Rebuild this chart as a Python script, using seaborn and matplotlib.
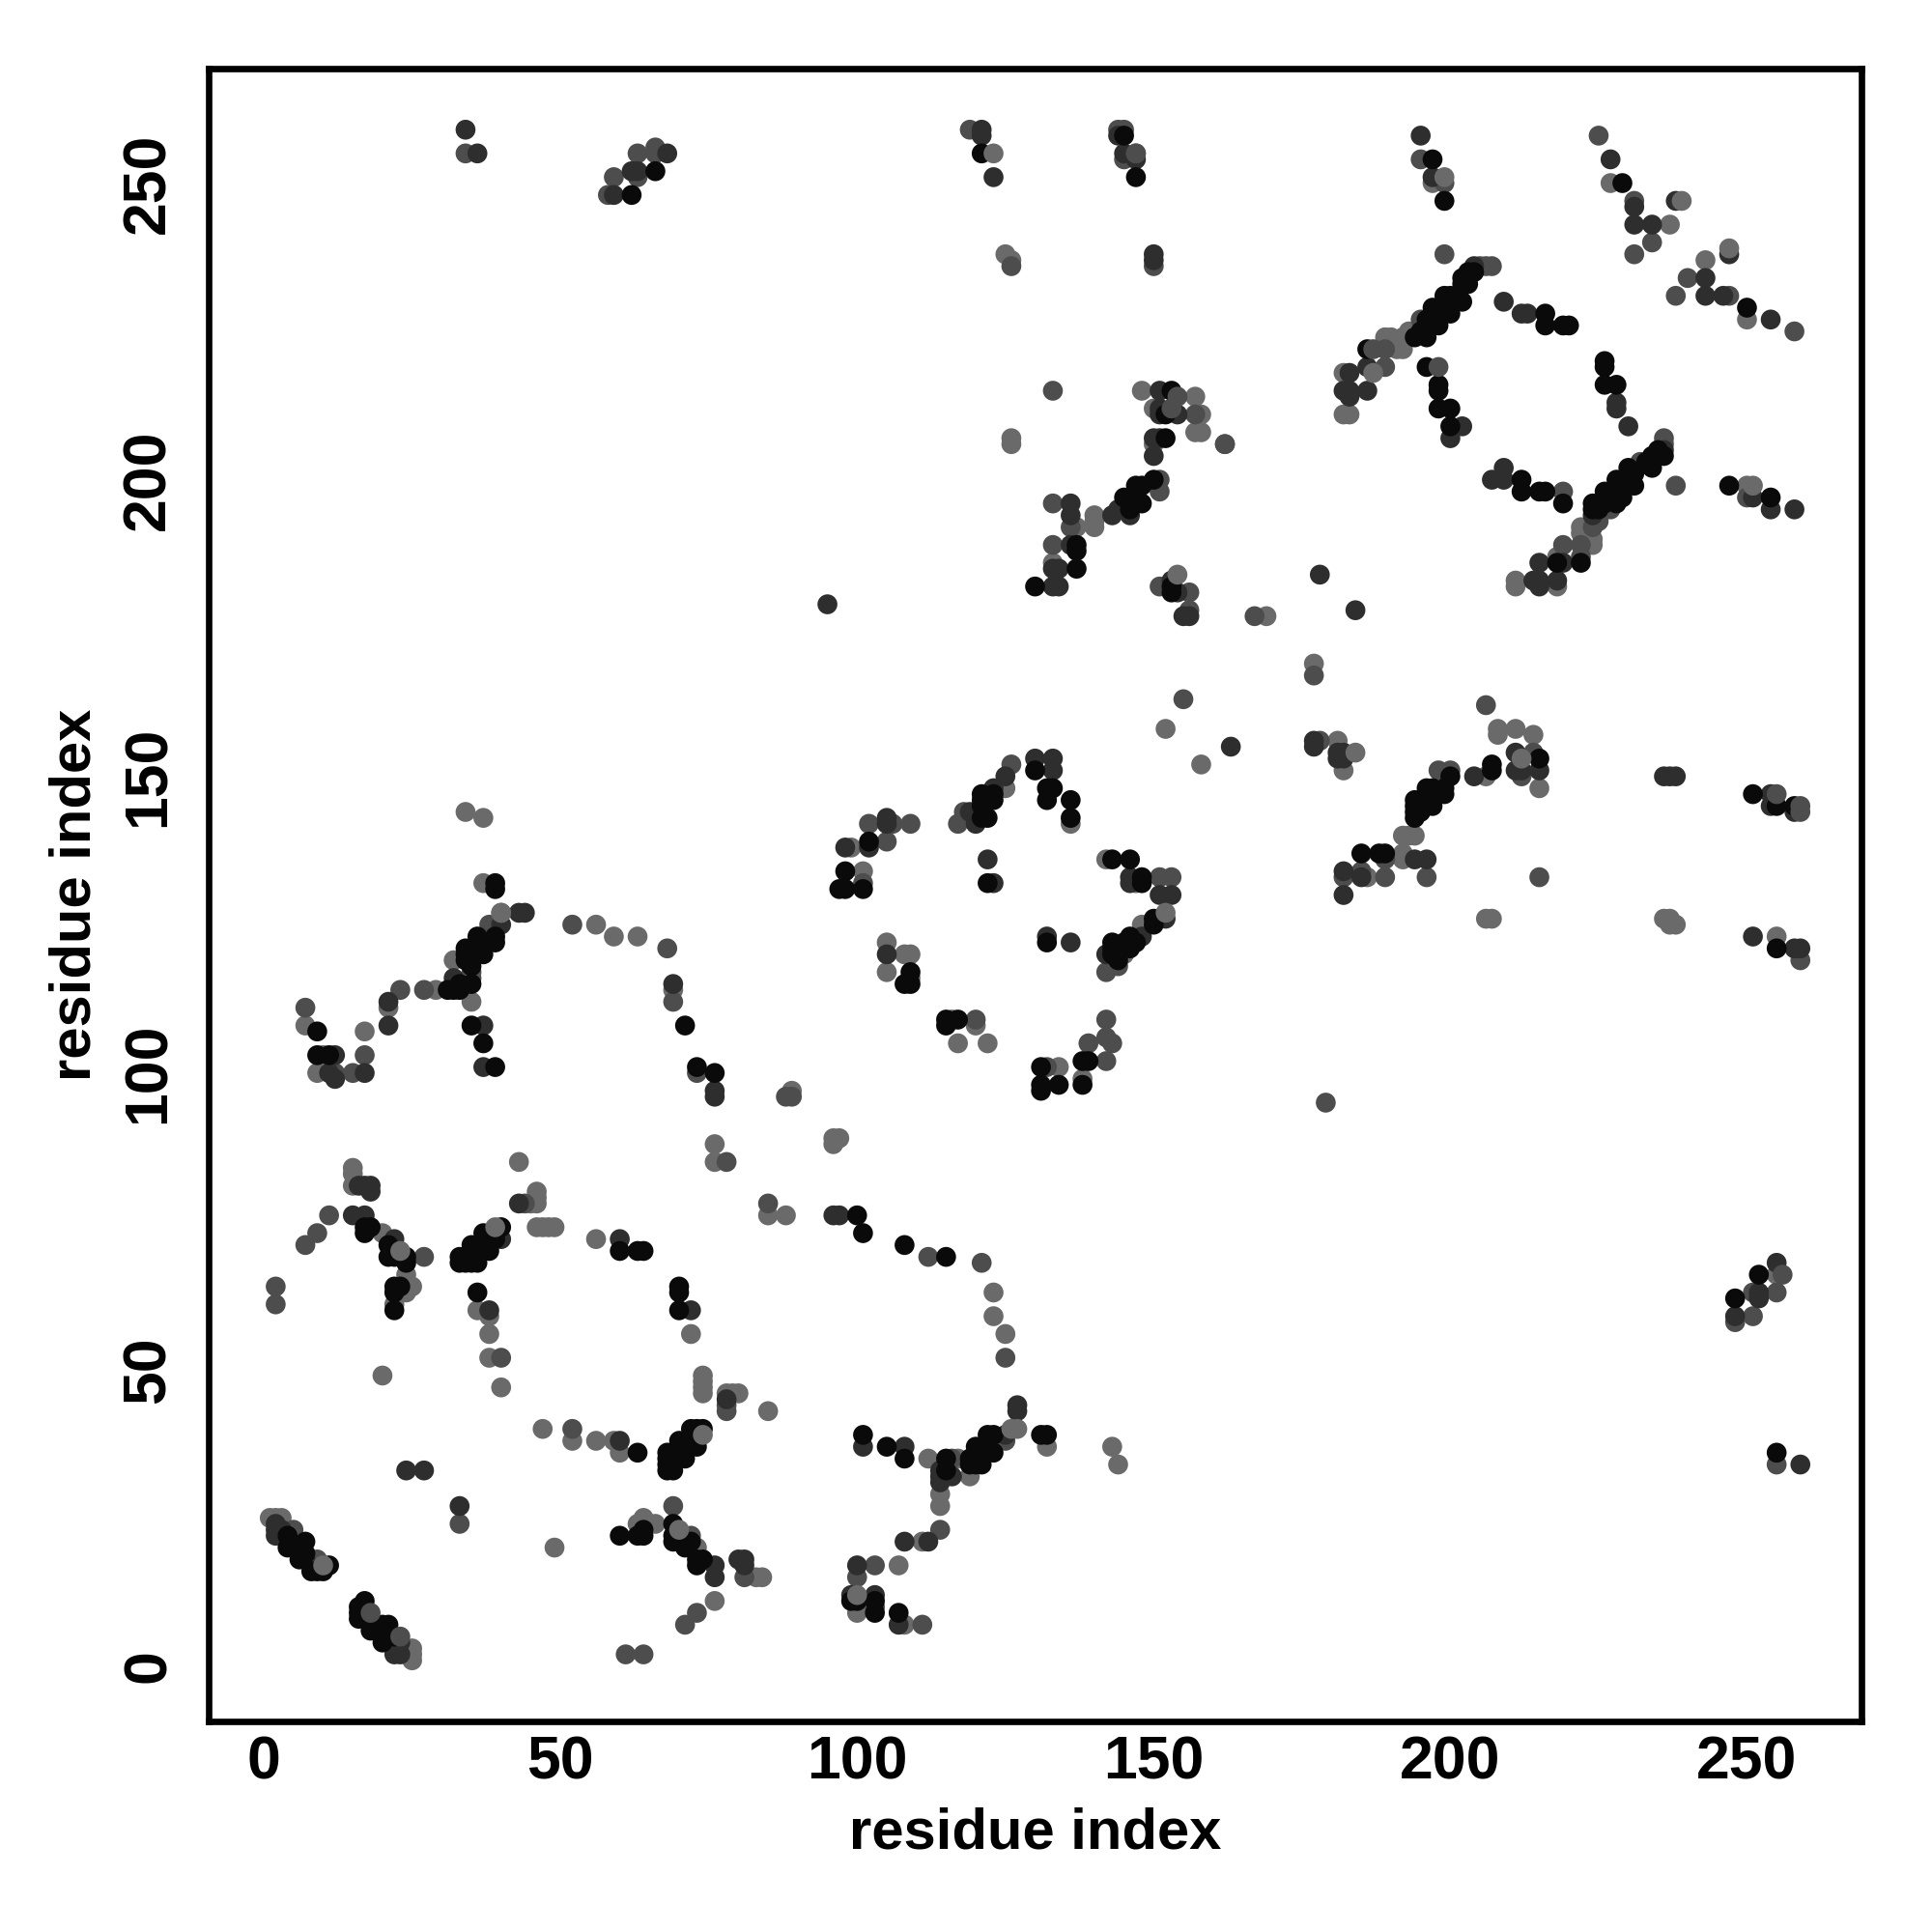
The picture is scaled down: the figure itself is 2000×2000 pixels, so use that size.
import matplotlib
matplotlib.use("Agg")
import matplotlib.pyplot as plt
import pandas as pd
import seaborn as sns

# contacts, grouped by how dark the dot is
light_pts = [
    (15,84),(15,83),(15,81),(43,85),(76,88),(76,85),(88,76),(20,73),(24,66),(24,64),(25,64),(24,63),(22,61),
    (36,60),(38,59),(38,56),(38,52),(40,47),(20,49),(45,78),(46,79),(46,80),(46,78),(46,74),(47,74),(48,74),(49,74),
    (56,72),(72,56),(74,49),(74,48),(74,47),(74,46),(78,46),(79,46),(80,46),(85,43),(47,40),(52,38),(56,38),(59,38),(60,36),
    (1,25),(2,25),(3,25),(64,25),(63,24),(65,24),(66,24),(73,20),(83,15),(84,15),(49,20),(76,11),
    (21,5),(25,3),(25,2),(25,1),(85,76),(96,89),(97,89),(96,88),(123,63),(123,59),(125,56),(112,35),(117,35),(114,29),(114,27),
    (119,32),(132,37),(143,37),(144,34),(111,21),(107,17),(100,9),(108,7),(34,144),(37,143),(37,132),
    (32,119),(35,112),(29,114),(21,111),(7,108),(17,107),(10,103),(9,100),(56,125),(59,123),(63,123),(69,114),
    (89,97),(152,158),(158,152),(181,156),(182,151),(125,148),(136,142),(99,138),(101,134),(142,136),(147,132),
    (148,125),(145,120),(105,122),(108,120),(109,120),(105,117),(109,116),(116,109),(120,108),(117,105),(122,105),(134,101),
    (138,99),(186,133),(208,158),(208,157),(211,158),(214,157),(215,148),(206,150),(192,140),(193,140),(194,140),(192,137),
    (192,136),(206,126),(207,126),(236,126),(237,126),(238,125),(237,125),(255,123),(193,225),(192,224),(189,224),(190,224),(191,222),
    (192,222),(182,218),(182,211),(183,211),(222,192),(222,191),(224,190),(224,189),(218,187),(211,183),(211,182),(218,182),
    (250,199),(169,177),(177,169),(126,207),(126,206),(148,215),(157,214),(150,212),(158,211),(157,208),(158,208),(150,206),
    (140,194),(140,193),(140,192),(137,192),(133,186),(125,238),(126,237),(197,250),(227,250),
    (237,243),(243,237),(250,227),(255,66),
]
mid_pts = [
    (78,85),(85,78),(2,64),(2,61),(11,76),(9,73),(7,71),(27,69),(40,52),(78,44),(78,43),(52,40),(81,15),(73,9),(71,7),(61,2),(64,2),
    (5,23),(8,18),(9,18),(44,78),(69,27),(72,22),(33,24),(125,52),(121,68),(112,69),(114,23),(103,17),(100,15),(103,10),
    (111,7),(116,35),(125,38),(38,125),(35,117),(35,116),(27,114),(23,114),(7,111),(17,103),(12,100),(15,100),(52,125),(68,121),(69,112),
    (73,100),(88,96),(89,96),(155,163),(178,156),(126,152),(118,144),(117,142),(102,142),(105,139),(106,142),(109,142),(101,132),(151,133),
    (153,133),(144,118),(142,117),(120,109),(142,109),(142,106),(143,105),(139,105),(142,102),(132,101),(179,95),(182,133),(185,134),
    (189,133),(189,136),(206,162),(214,154),(212,150),(198,151),(200,151),(196,133),(215,133),(259,119),(177,167),
    (231,238),(234,240),(240,234),(238,231),(247,231),(258,225),(199,238),(207,236),(206,236),(205,236),(195,227),(189,222),
    (189,219),(236,207),(236,206),(232,203),(227,195),(225,193),(224,192),(222,189),(219,189),(222,187),(219,198),(238,199),
    (250,197),(133,215),(153,212),(157,211),(162,206),(151,200),(151,198),(133,196),(136,192),(133,189),(151,182),
    (156,181),(156,178),(167,177),(34,255),(66,256),(63,255),(66,255),(63,251),(59,251),(58,248),(119,259),(126,236),(144,259),(145,259),
    (145,254),(150,236),(195,254),(199,250),(225,258),(231,247),(251,63),(255,63),(248,58),(251,59),(255,34),
]
dark_pts = [
    (15,76),(17,76),(16,81),(17,81),(18,81),(18,80),(22,72),(40,72),(38,60),(43,78),(60,72),(72,60),(78,45),(60,38),(72,38),
    (24,33),(27,33),(33,27),(76,17),(76,15),(80,18),(81,18),(81,17),(2,24),(2,23),(2,22),(3,23),(7,18),(23,4),(22,2),(23,2),(96,76),(97,76),
    (127,44),(127,43),(101,37),(108,37),(114,33),(114,32),(114,31),(116,32),(125,39),(108,21),(112,21),(100,17),(99,12),(103,12),(107,7),
    (43,127),(44,127),(40,125),(32,116),(21,112),(21,108),(37,108),(37,101),(12,103),(17,100),(11,100),(12,99),(69,115),(76,97),(76,96),
    (163,155),(177,156),(177,155),(181,154),(181,153),(182,154),(182,153),(130,153),(133,153),(133,151),(125,150),(123,148),(119,144),(120,142),
    (105,143),(105,142),(102,138),(98,138),(122,136),(123,132),(146,133),(146,132),(151,130),(153,130),(152,126),(148,123),(142,120),
    (132,123),(136,122),(105,120),(182,134),(182,130),(185,133),(211,154),(211,151),(212,151),(215,151),(204,150),(194,136),(196,136),
    (236,150),(237,150),(238,150),(254,147),(254,145),(258,144),(251,123),(258,121),(259,121),(204,236),(209,230),(212,228),(213,228),
    (186,219),(183,218),(182,215),(183,215),(183,214),(186,215),(202,209),(200,207),(228,213),(228,212),(230,209),(236,205),(207,200),(209,202),
    (209,200),(224,194),(219,186),(215,186),(214,183),(215,183),(215,182),(218,183),(251,197),(254,195),(258,195),(178,184),(184,178),
    (151,215),(151,212),(151,211),(154,211),(150,207),(151,207),(150,204),(144,195),(136,196),(136,194),(143,194),(146,194),(136,189),
    (133,185),(134,185),(133,182),(134,182),(153,183),(154,181),(155,177),(156,177),(95,179),(34,259),(36,255),(68,255),(62,252),(63,252),
    (59,248),(121,259),(121,258),(123,251),(144,258),(145,255),(147,254),(150,238),(150,237),(195,258),(197,251),(227,254),(231,246),
    (231,243),(234,243),(238,247),(243,234),(243,231),(246,231),(247,238),(254,227),(255,68),(252,63),(252,62),(248,59),(259,34),
]
black_pts = [
    (17,74),(18,74),(17,73),(21,71),(21,69),(22,69),(24,69),(24,68),(22,64),(23,64),(22,63),(22,60),(33,68),(34,68),(35,68),(36,68),(33,69),
    (35,71),(35,70),(36,70),(37,70),(38,70),(37,73),(38,72),(40,74),(39,72),(37,72),(36,63),(60,70),(63,70),(64,70),(70,64),(70,63),(70,60),
    (63,36),(74,40),(72,40),(73,40),(70,38),(73,37),(70,36),(71,35),(68,36),(68,35),(68,34),(69,34),(68,33),(69,33),(69,36),(71,37),
    (60,22),(64,22),(63,22),(64,23),(69,24),(69,22),(69,21),(71,20),(72,21),(74,18),(73,17),(73,18),
    (4,22),(4,20),(7,21),(6,20),(7,19),(6,18),(8,16),(9,16),(10,16),(11,17),(17,11),(16,10),(16,9),(16,8),(17,9),(18,7),(18,6),(21,7),(20,7),(20,6),
    (20,4),(21,6),(22,5),(100,76),(101,73),(108,71),(115,69),(101,39),(105,37),(108,35),(115,35),(115,33),(119,34),(120,34),(121,34),(119,35),
    (120,37),(121,36),(122,39),(123,39),(123,36),(122,37),(131,39),(132,39),(99,11),(100,11),(103,11),(103,9),(107,9),
    (39,132),(39,131),(36,123),(39,123),(39,122),(37,121),(34,121),(34,120),(35,120),(37,120),(34,119),(35,118),(33,115),(35,115),(32,114),(31,114),(33,114),
    (9,107),(9,103),(11,103),(35,108),(37,105),(39,101),(71,108),(73,101),(76,100),
    (130,151),(123,147),(123,146),(121,147),(121,146),(121,145),(122,143),(121,143),(133,148),(132,148),(132,146),(136,146),(136,143),
    (102,139),(98,134),(97,131),(98,131),(101,131),(122,132),(132,122),(143,136),(146,136),(148,133),(148,132),(150,126),(150,125),(146,123),(147,122),(146,121),
    (145,122),(143,122),(143,121),(144,121),(143,120),(144,119),(109,117),(108,115),(109,115),(115,109),(115,108),(117,109),(138,102),(139,102),
    (131,101),(131,98),(131,97),(134,98),(138,98),(185,137),(188,137),(189,137),
    (207,152),(207,151),(215,153),(200,150),(196,148),(197,148),(199,148),(199,147),(196,147),(197,147),(194,146),(195,146),(194,145),(195,145),(197,145),
    (194,144),(195,144),(194,143),(251,147),(255,145),(258,145),(255,121),
    (204,235),(203,235),(202,234),(202,233),(203,233),(199,231),(200,231),(201,230),(202,230),(199,230),(197,229),(200,228),(197,228),(196,227),(198,226),
    (196,226),(195,225),(196,224),(194,224),(186,222),(196,219),(198,216),(198,215),(198,212),(200,212),(200,209),
    (226,220),(226,219),(226,216),(228,216),(235,205),(235,204),(234,204),(236,204),(233,203),(234,202),(230,202),(231,201),(228,200),(230,200),(231,199),
    (230,199),(226,198),(228,198),(229,197),(227,197),(226,196),(228,196),(224,196),(225,195),(224,195),(222,186),(218,186),
    (216,228),(216,226),(219,226),(220,226),(212,200),(212,198),(215,198),(216,198),(219,196),(247,199),(250,229),(254,197),
    (153,215),(152,211),(152,207),(150,200),(147,199),(148,199),(148,196),(145,197),(146,197),(146,195),(137,189),(137,188),(137,185),(130,182),(153,182),(153,181),
    (121,255),(62,248),(66,252),(145,258),(147,251),(197,254),(199,247),(229,250),(252,66),(248,62),(255,36),
]
# dots that sit over the black ones in the clusters
light_top_pts = [
    (23,70),(39,74),(74,39),(70,23),(10,17),(127,40),(126,40),(100,12),(40,127),(76,... ) if False else (40,127),
    (184,154),(212,153),(152,127),(187,218),(251,199),(154,184),(123,255),(199,251),(239,247),(247,239),
]
mid_top_pts = [
    (18,9),(23,5),(154,214),(153,212),(147,255),(187,222),(198,219),(147,255),(255,147),(259,145),(259,144),(256,66),(162,206),
]

shade_names = ["light", "mid", "dark", "black", "light", "mid"]
shade_colors = {"light": "#6a6a6a", "mid": "#4d4d4d", "dark": "#2e2e2e", "black": "#0a0a0a"}
tick_values = [0, 50, 100, 150, 200, 250]

sns.set_style("white")
plt.rcParams["font.family"] = ["Liberation Sans", "DejaVu Sans"]

rows = []
groups = [light_pts, mid_pts, dark_pts, black_pts, light_top_pts, mid_top_pts]
for name, pts in zip(shade_names, groups):
    for a, b in pts:
        rows.append({"i": a, "j": b, "shade": name})
df = pd.DataFrame(rows)

fig = plt.figure(figsize=(10, 10), dpi=200)
ax = fig.add_axes([0.108, 0.109, 0.8555, 0.8555])
sns.scatterplot(data=df, x="i", y="j", hue="shade", palette=shade_colors, s=55, linewidth=0, legend=False, ax=ax)
ax.set_xlim(-9.3, 269.3)
ax.set_ylim(-9.3, 269.3)
ax.set_xticks(tick_values)
ax.set_yticks(tick_values)
ax.tick_params(length=3.5, width=1.5, color="black", labelcolor="black", labelsize=22.5)
ax.tick_params(axis="x", pad=1.4)
ax.tick_params(axis="y", pad=8.2)
for lab in ax.get_xticklabels():
    lab.set_fontweight("bold")
for lab in ax.get_yticklabels():
    lab.set_fontweight("bold")
    lab.set_rotation(90)
    lab.set_va("center")
for side in ax.spines.values():
    side.set_linewidth(2.4)
    side.set_color("black")
ax.set_xlabel("residue index", fontsize=21.5, fontweight="bold", color="black", labelpad=5.8)
ax.set_ylabel("residue index", fontsize=21.5, fontweight="bold", color="black", labelpad=7)
fig.savefig("out.png", dpi=200)
